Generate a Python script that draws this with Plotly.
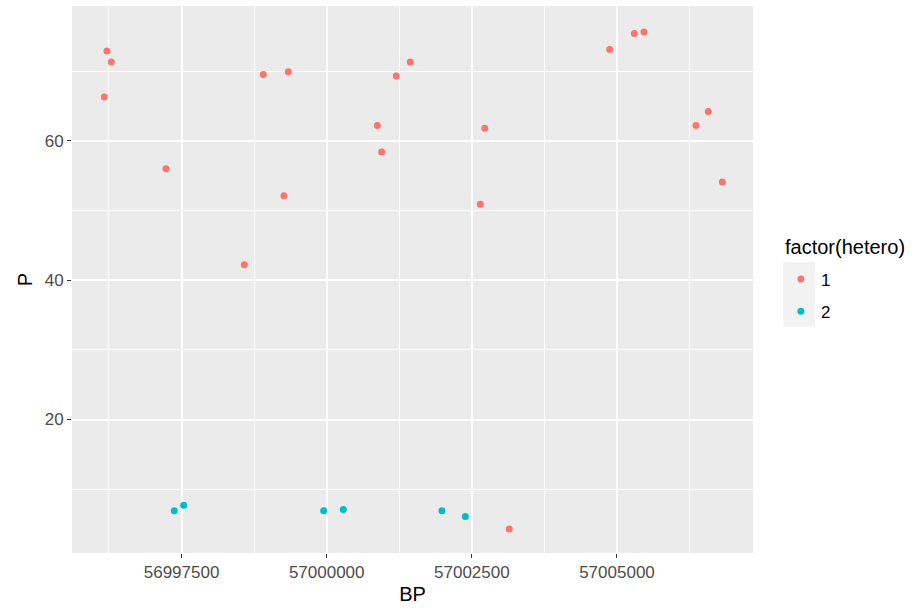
import plotly.graph_objects as go

# Positions (BP) and values (P) for each heterogeneity class
bp_het1 = [56996215, 56996290, 56996169, 56997232, 56998581, 56998908, 56999339,
           56999264, 57000872, 57000947, 57001199, 57001440, 57004875, 57005299,
           57005466, 57002722, 57002646, 57006362, 57006573, 57006815, 57003145]
p_het1 = [72.9, 71.3, 66.3, 56.0, 42.2, 69.5, 69.9,
          52.1, 62.2, 58.4, 69.3, 71.3, 73.1, 75.4,
          75.6, 61.8, 50.9, 62.2, 64.2, 54.1, 4.3]

bp_het2 = [56997375, 56997537, 56999948, 57000286, 57001986, 57002388]
p_het2 = [6.9, 7.7, 6.9, 7.1, 6.9, 6.1]

groups = ["1", "2"]
colors = ["#F8766D", "#00BFC4"]

x_ticks = [56997500, 57000000, 57002500, 57005000]
x_minor = [56996250, 56998750, 57001250, 57003750, 57006250]
y_ticks = [20, 40, 60]
y_minor = [10, 30, 50, 70]

FONT = "Liberation Sans, Arial, sans-serif"

fig = go.Figure()
for name, xs, ys, col in zip(groups, [bp_het1, bp_het2], [p_het1, p_het2], colors):
    fig.add_trace(go.Scatter(
        x=xs, y=ys, mode="markers", name=name, legendgroup=name,
        marker=dict(color=col, size=7, line=dict(width=0)),
    ))

axis_common = dict(
    showgrid=True, gridcolor="white", gridwidth=1.5,
    zeroline=False, showline=False,
    ticks="outside", ticklen=4, tickwidth=1, tickcolor="#333333",
    tickfont=dict(family=FONT, size=17, color="#4D4D4D"),
)

fig.update_xaxes(
    **axis_common,
    range=[56995613, 57007343],
    tickmode="array", tickvals=x_ticks, ticktext=[str(v) for v in x_ticks],
    minor=dict(tickmode="array", tickvals=x_minor, showgrid=True,
               gridcolor="white", gridwidth=0.8, ticks=""),
    title=dict(text="BP", font=dict(family=FONT, size=20, color="black"), standoff=5),
)
fig.update_yaxes(
    **axis_common,
    range=[0.85, 79.34],
    tickmode="array", tickvals=y_ticks, ticktext=[str(v) for v in y_ticks],
    minor=dict(tickmode="array", tickvals=y_minor, showgrid=True,
               gridcolor="white", gridwidth=0.8, ticks=""),
    title=dict(text="P", font=dict(family=FONT, size=20, color="black"), standoff=6),
)

# grey key background behind the legend symbols
fig.add_shape(type="rect", xref="paper", yref="paper",
              x0=1.0445, x1=1.091, y0=0.4137, y1=0.5314,
              fillcolor="#F2F2F2", line=dict(width=0), layer="below")

# legend heading
fig.add_annotation(text="factor(hetero)", xref="paper", yref="paper",
                   x=1.0445, y=0.5594, xanchor="left", yanchor="middle",
                   showarrow=False,
                   font=dict(family=FONT, size=20, color="black"))

fig.update_layout(
    width=917, height=609,
    margin=dict(l=72, r=164, t=6, b=56, autoexpand=False),
    paper_bgcolor="white", plot_bgcolor="#EBEBEB",
    font=dict(family=FONT),
    legend=dict(
        font=dict(family=FONT, size=17, color="black"),
        x=1.041, y=0.5329, xanchor="left", yanchor="top",
        bgcolor="rgba(0,0,0,0)", tracegroupgap=7,
    ),
)

fig.write_html("out.html")
